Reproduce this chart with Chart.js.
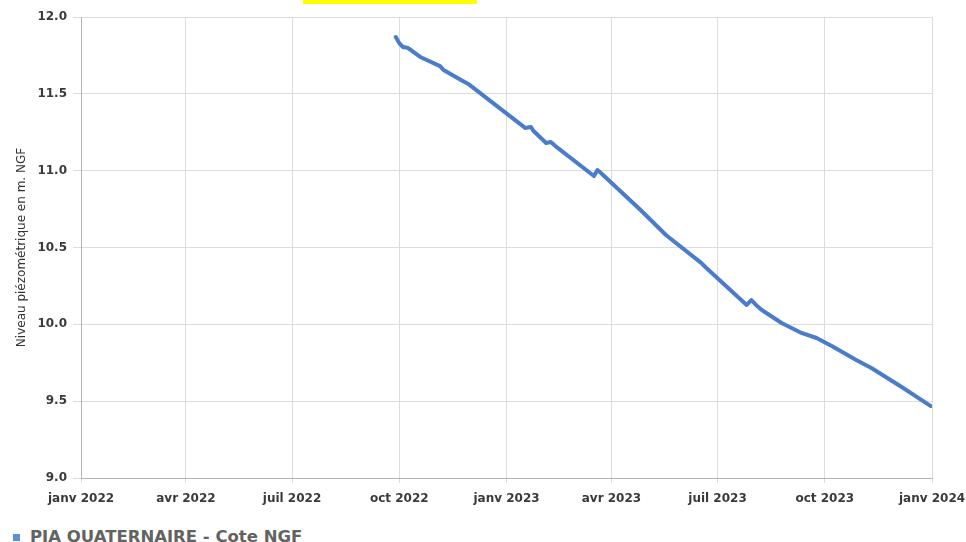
<!DOCTYPE html>
<html>
<head>
<meta charset="utf-8">
<script src="https://cdn.jsdelivr.net/npm/chart.js@4"></script>
<style>
    body { margin: 0; background: #fff; overflow: hidden; }
    #wrap { position: relative; width: 966px; height: 542px; overflow: hidden; }
    #box { position: absolute; left: 0; top: 0; width: 966px; height: 520px; }
    #mark { position: absolute; left: 303px; top: 0; width: 174px; height: 4px; background: #ffff00; }
    #legend {
        position: absolute; left: 13px; top: 527px;
        font-family: "DejaVu Sans", sans-serif;
        font-weight: bold; font-size: 16.5px; line-height: 19px; color: #626262;
        white-space: nowrap;
    }
    #legend span.sq {
        display: inline-block; width: 7px; height: 7px; background: #5b8fd6;
        margin-right: 10px; vertical-align: 1px;
    }
</style>
</head>
<body>
<div id="wrap">
    <div id="box"><canvas id="chart"></canvas></div>
    <div id="mark"></div>
    <div id="legend"><span class="sq"></span><span id="legend-text"></span></div>
</div>
<script>
// Series: dates (YYYY-MM-DD) and groundwater level in m NGF
const dates = [
    "2022-09-28", "2022-10-01", "2022-10-04", "2022-10-08", "2022-10-11",
    "2022-10-19", "2022-11-05", "2022-11-08", "2022-11-23", "2022-11-30",
    "2023-01-17", "2023-01-22", "2023-01-24", "2023-02-04", "2023-02-08",
    "2023-02-12", "2023-03-17", "2023-03-20", "2023-03-23", "2023-04-26",
    "2023-05-18", "2023-06-17", "2023-06-21", "2023-07-26", "2023-07-30",
    "2023-08-03", "2023-08-08", "2023-08-25", "2023-09-11", "2023-09-24",
    "2023-10-07", "2023-10-28", "2023-11-10", "2023-12-06", "2023-12-31",
];
const levels = [
    11.87, 11.83, 11.805, 11.80, 11.785,
    11.74, 11.68, 11.655, 11.59, 11.56,
    11.278, 11.284, 11.26, 11.18, 11.187,
    11.16, 10.965, 11.004, 10.985, 10.744,
    10.58, 10.40, 10.37, 10.126, 10.158,
    10.126, 10.093, 10.009, 9.944, 9.911,
    9.859, 9.768, 9.716, 9.592, 9.468,
];

// Quarterly tick dates and labels
const tickDates = [
    "2022-01-01", "2022-04-01", "2022-07-01", "2022-10-01", "2023-01-01",
    "2023-04-01", "2023-07-01", "2023-10-01", "2024-01-01",
];
const tickLabels = [
    "janv 2022", "avr 2022", "juil 2022", "oct 2022", "janv 2023",
    "avr 2023", "juil 2023", "oct 2023", "janv 2024",
];

const seriesName = "PIA QUATERNAIRE - Cote NGF";
const yTitle = "Niveau piézométrique en m. NGF";

const toMs = (s) => Date.parse(s + "T00:00:00Z");
const tickMs = tickDates.map(toMs);

document.getElementById("legend-text").textContent = seriesName;

const ctx = document.getElementById("chart");
new Chart(ctx, {
    type: "line",
    data: {
        datasets: [
            {
                label: seriesName,
                data: dates.map((d, i) => ({ x: toMs(d), y: levels[i] })),
                borderColor: "#4a7cca",
                borderWidth: 4,
                borderJoinStyle: "round",
                borderCapStyle: "round",
                pointRadius: 0,
                tension: 0,
            },
        ],
    },
    options: {
        responsive: true,
        maintainAspectRatio: false,
        animation: false,
        layout: {
            padding: { top: 17, right: 34, left: 0, bottom: 0 },
        },
        scales: {
            x: {
                type: "linear",
                min: tickMs[0],
                max: tickMs[tickMs.length - 1],
                afterBuildTicks: (scale) => {
                    scale.ticks = tickMs.map((v) => ({ value: v }));
                },
                afterFit: (scale) => {
                    scale.height = 42;
                    // let the layout padding decide the plot edges
                    scale.paddingLeft = 0;
                    scale.paddingRight = 0;
                },
                grid: {
                    color: "#dcdcdc",
                    tickLength: 5,
                },
                border: { color: "#b5b5b5" },
                ticks: {
                    autoSkip: false,
                    maxRotation: 0,
                    padding: 9,
                    color: "#3a3a3a",
                    font: { family: "DejaVu Sans", size: 12, weight: "bold" },
                    callback: (value) => {
                        const i = tickMs.indexOf(value);
                        return i >= 0 ? tickLabels[i] : "";
                    },
                },
            },
            y: {
                min: 9,
                max: 12,
                afterFit: (scale) => {
                    scale.width = 81;
                },
                grid: {
                    color: "#dcdcdc",
                    tickLength: 8,
                },
                border: { color: "#b5b5b5" },
                ticks: {
                    stepSize: 0.5,
                    padding: 6,
                    color: "#3a3a3a",
                    font: { family: "DejaVu Sans", size: 12, weight: "bold" },
                    callback: (value) => value.toFixed(1),
                },
                title: {
                    display: true,
                    text: yTitle,
                    color: "#333",
                    padding: { top: 15, bottom: 0 },
                    font: { family: "DejaVu Sans", size: 12 },
                },
            },
        },
        plugins: {
            legend: { display: false },
            tooltip: { enabled: false },
        },
    },
});
</script>
</body>
</html>
